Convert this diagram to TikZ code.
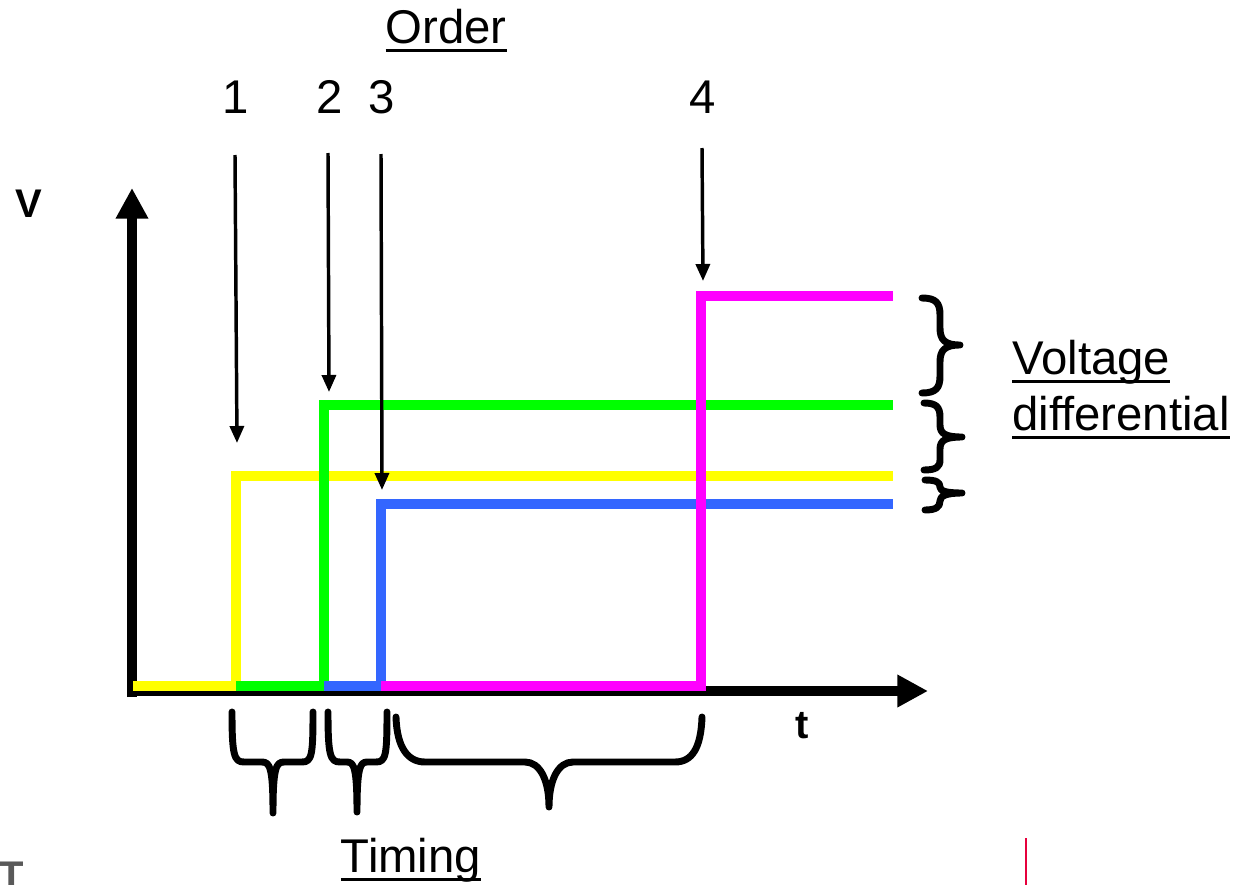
\documentclass[tikz,border=0pt]{standalone}
\usepackage{fontspec}
\setmainfont{Liberation Sans}
\usetikzlibrary{arrows.meta}
\newcommand\myul[1]{\setbox0\hbox{#1}\rlap{\rule[-6.6pt]{\wd0}{2.2pt}}\box0}
\definecolor{cyel}{RGB}{255,255,0}
\definecolor{cgrn}{RGB}{0,255,0}
\definecolor{cblu}{RGB}{51,102,255}
\definecolor{cmag}{RGB}{255,0,255}
\definecolor{cred}{RGB}{230,0,60}
\definecolor{cgray}{RGB}{89,89,89}
\tikzset{
  lbl/.style={inner sep=0pt, anchor=base, font=\fontsize{35.5}{41}\selectfont},
  axlbl/.style={inner sep=0pt, anchor=base, font=\fontsize{30}{35}\selectfont\bfseries},
  axis/.style={line width=7.5pt, -{Triangle[width=23pt,length=23pt]}},
  sig/.style={line width=6.8pt},
  pointer/.style={line width=2.6pt, -{Triangle[width=10.5pt,length=12.75pt]}},
  brc/.style={line width=5.2pt, line cap=round, line join=round},
}
\begin{document}
\begin{tikzpicture}[x=0.75pt,y=-0.75pt]
\useasboundingbox (0,0) rectangle (1235,885);
% labels
\node[lbl] (order) at (446,43) {\myul{Order}};
\node[lbl] (n1) at (236,113) {1};
\node[lbl] (n2) at (330,113) {2};
\node[lbl] (n3) at (382,113) {3};
\node[lbl] (n4) at (703,113) {4};
\node[axlbl] (vlab) at (29,217) {V};
\node[axlbl] (tlab) at (802,738) {t};
\node[lbl, anchor=base west] (volt) at (1012,374) {\myul{Voltage}};
\node[lbl, anchor=base west] (diff) at (1012,430) {\myul{differential}};
\node[lbl] (timing) at (411,872) {\myul{Timing}};
\node[axlbl, anchor=base west, text=cgray] (tcut) at (-1,889) {T};
% axes
\coordinate (O) at (132,691);
\coordinate (Vtip) at (132,188);
\coordinate (Ttip) at (928,691);
\draw[axis] (132,697) -- (Vtip);
\draw[axis] (127,691) -- (Ttip);
% signals
\draw[sig, cyel] (133,686) -- (236,686) -- (236,476) -- (893,476);
\draw[sig, cgrn] (236,686) -- (324,686) -- (324,405) -- (893,405);
\draw[sig, cblu] (324,686) -- (381,686) -- (381,504) -- (893,504);
\draw[sig, cmag] (381,686) -- (701,686) -- (701,296) -- (893,296);
% pointers
\coordinate (a1s) at (235,155); \coordinate (a1e) at (237,443);
\coordinate (a2s) at (328,153); \coordinate (a2e) at (329,392);
\coordinate (a3s) at (381,154); \coordinate (a3e) at (382,490);
\coordinate (a4s) at (702,148); \coordinate (a4e) at (703,281);
\draw[pointer] (a1s) -- (a1e);
\draw[pointer] (a2s) -- (a2e);
\draw[pointer] (a3s) -- (a3e);
\draw[pointer] (a4s) -- (a4e);
% bottom braces
\draw[brc] (232,712) .. controls (232,755) and (234,762) .. (244,762) -- (262,762) .. controls (270,762) and (273,768) .. (273,813) .. controls (273,768) and (276,762) .. (284,762) -- (302,762) .. controls (312,762) and (313,755) .. (313,712);
\draw[brc] (328,712) .. controls (328,755) and (330,762) .. (340,762) -- (347,762) .. controls (354,762) and (357,768) .. (357,812) .. controls (357,768) and (360,762) .. (367,762) -- (376,762) .. controls (386,762) and (387,755) .. (387,712);
\draw[brc] (396,717) .. controls (397,748) and (408,762) .. (425,762) -- (525,762) .. controls (540,762) and (549,780) .. (549,807) .. controls (549,780) and (558,762) .. (573,762) -- (675,762) .. controls (692,762) and (701,748) .. (702,717);
% right braces
\draw[brc] (922,298) .. controls (936,298) and (940,303) .. (940,315) -- (940,328) .. controls (940,340) and (945,345) .. (960,345) .. controls (945,345) and (940,350) .. (940,362) -- (940,376) .. controls (940,388) and (936,393) .. (922,393);
\draw[brc] (924,403) .. controls (936,403) and (940,407) .. (940,417) -- (940,425) .. controls (940,434) and (946,437) .. (962,437) .. controls (946,437) and (940,440) .. (940,449) -- (940,460) .. controls (940,467) and (936,470) .. (924,470);
\draw[brc] (925,480) .. controls (936,480) and (940,482) .. (940,487) .. controls (940,491) and (946,493) .. (962,493) .. controls (946,493) and (940,496) .. (940,501) .. controls (940,507) and (936,510) .. (925,510);
% red mark
\coordinate (r1) at (1026,838); \coordinate (r2) at (1026,885);
\draw[cred, line width=1.5pt] (r1) -- (r2);
\end{tikzpicture}
\end{document}
